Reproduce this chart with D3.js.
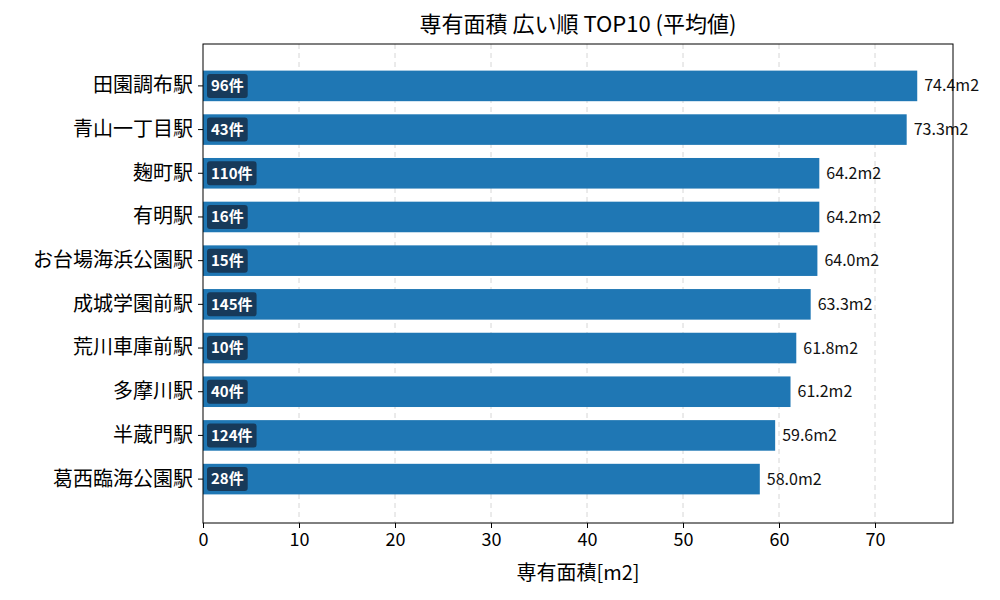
<!DOCTYPE html><html><head><meta charset="utf-8">
<script src="https://cdn.jsdelivr.net/npm/d3@7"></script>
<style>body{margin:0;background:#fff}text{font-family:"Noto Sans CJK JP","Noto Sans",sans-serif}</style></head><body>
<svg id="c" width="1000" height="600"></svg>
<script>
const stations=["田園調布駅","青山一丁目駅","麹町駅","有明駅","お台場海浜公園駅","成城学園前駅","荒川車庫前駅","多摩川駅","半蔵門駅","葛西臨海公園駅"];
const areas=[74.4,73.3,64.2,64.2,64.0,63.3,61.8,61.2,59.6,58.0];
const counts=[96,43,110,16,15,145,10,40,124,28];
const xTicks=[0,10,20,30,40,50,60,70];
const svg=d3.select("#c");
const L=203,R=953,T=44,B=523;
const x=d3.scaleLinear().domain([0,78.125]).range([L,R]);
const y=d3.scaleBand().domain(stations).range([57.5,507.5]).padding(0.3);
const g=svg.append("g");
g.selectAll(".gl").data(xTicks.slice(1)).join("line").attr("x1",d=>x(d)).attr("x2",d=>x(d)).attr("y1",T).attr("y2",B).attr("stroke","#ccc").attr("stroke-dasharray","5,4").attr("stroke-width",0.8);
g.selectAll(".bar").data(stations).join("rect").attr("x",x(0)).attr("y",d=>y(d)).attr("width",(d,i)=>x(areas[i])-x(0)).attr("height",y.bandwidth()).attr("fill","#1f77b4");
g.selectAll(".val").data(stations).join("text").attr("x",(d,i)=>x(areas[i])+7).attr("y",d=>y(d)+y.bandwidth()/2).attr("dy","0.35em").attr("font-size",16).attr("fill","#111").text((d,i)=>areas[i].toFixed(1)+"m2");
const badge=g.selectAll(".b").data(stations).join("g");
badge.each(function(d,i){
 const gg=d3.select(this);
 const t=gg.append("text").attr("x",211).attr("y",y(d)+y.bandwidth()/2).attr("dy","0.35em").attr("font-size",15).attr("font-weight","bold").attr("fill","#fff").text(counts[i]+"件");
 const w=t.node().getComputedTextLength();
 gg.insert("rect","text").attr("x",207).attr("y",y(d)+y.bandwidth()/2-12).attr("width",w+8).attr("height",24).attr("rx",3).attr("fill","#173a5a");
});
svg.append("rect").attr("x",L).attr("y",T).attr("width",R-L).attr("height",B-T).attr("fill","none").attr("stroke","#000").attr("stroke-width",1);
const xa=svg.append("g").attr("transform",`translate(0,${B})`).call(d3.axisBottom(x).tickValues(xTicks).tickSize(5).tickPadding(5));
xa.select(".domain").remove();xa.selectAll("text").attr("font-size",18).attr("fill","#000");
const ya=svg.append("g").attr("transform",`translate(${L},0)`).call(d3.axisLeft(y).tickSize(5).tickPadding(5));
ya.select(".domain").remove();ya.selectAll("text").attr("font-size",20).attr("fill","#000");
svg.append("text").attr("x",578).attr("y",580).attr("text-anchor","middle").attr("font-size",20).text("専有面積[m2]");
svg.append("text").attr("x",578).attr("y",32).attr("text-anchor","middle").attr("font-size",22).text("専有面積 広い順 TOP10 (平均値)");
</script></body></html>
